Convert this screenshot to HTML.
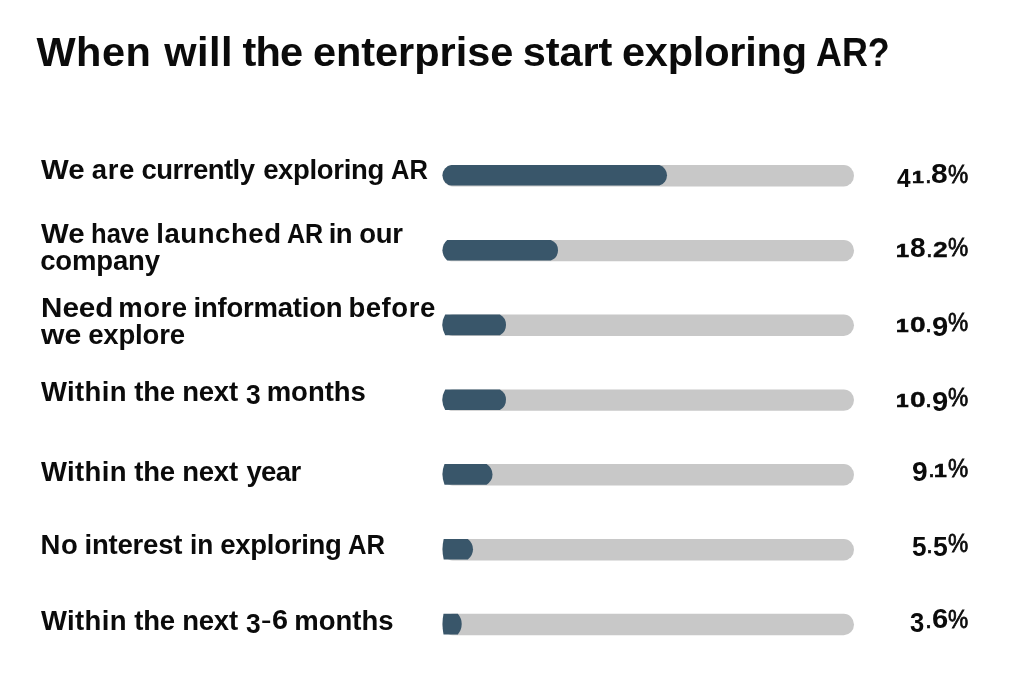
<!DOCTYPE html>
<html lang="en">
<head>
<meta charset="utf-8">
<title>When will the enterprise start exploring AR?</title>
<style>
html,body{margin:0;padding:0;background:#fff;}
body{width:1024px;height:677px;position:relative;overflow:hidden;font-family:"Liberation Sans",Arial,sans-serif;font-weight:bold;color:#0b0b0b;}
.title{margin:0;font-size:41.5px;line-height:48px;font-weight:bold;}
.lbl{font-size:27.5px;line-height:28px;}
.w{position:absolute;white-space:nowrap;transform-origin:0 50%;}
.pct{font-size:27px;line-height:28px;}
.bars{position:absolute;left:0;top:0;}
</style>
</head>
<body>
<h1 class="title"><span class="w" style="left:36.40px;top:27.62px;letter-spacing:0.485px">When</span> <span class="w" style="left:164.25px;top:27.62px;letter-spacing:0.511px">will</span> <span class="w" style="left:242.50px;top:27.62px;letter-spacing:-0.858px">the</span> <span class="w" style="left:312.90px;top:27.62px;letter-spacing:-0.027px">enterprise</span> <span class="w" style="left:522.80px;top:27.62px;letter-spacing:-0.088px">start</span> <span class="w" style="left:622.00px;top:27.62px;letter-spacing:-0.215px">exploring</span> <span class="w" style="left:815.64px;top:27.62px;transform:scaleX(0.8640)">AR?</span></h1>

<div class="lbl"><span class="w" style="left:41.00px;top:156.47px;transform:scaleX(1.0682)">We</span> <span class="w" style="left:91.87px;top:156.47px;letter-spacing:0.512px">are</span> <span class="w" style="left:141.44px;top:156.47px;letter-spacing:-0.512px">currently</span> <span class="w" style="left:263.14px;top:156.47px;letter-spacing:-0.331px">exploring</span> <span class="w" style="left:390.90px;top:156.47px;transform:scaleX(0.9287)">AR</span></div>
<div class="lbl"><span class="w" style="left:41.00px;top:220.47px;transform:scaleX(1.0682)">We</span> <span class="w" style="left:91.40px;top:220.47px;transform:scaleX(0.9307)">have</span> <span class="w" style="left:156.18px;top:220.47px;letter-spacing:0.580px">launched</span> <span class="w" style="left:286.81px;top:220.47px;transform:scaleX(0.9106)">AR</span> <span class="w" style="left:328.78px;top:220.47px;letter-spacing:-0.590px">in</span> <span class="w" style="left:359.24px;top:220.47px;letter-spacing:-0.325px">our</span>
  <span class="w" style="left:40.14px;top:247.47px;letter-spacing:-0.141px">company</span></div>
<div class="lbl"><span class="w" style="left:40.55px;top:294.47px;transform:scaleX(1.0773)">Need</span> <span class="w" style="left:118.18px;top:294.47px;letter-spacing:0.519px">more</span> <span class="w" style="left:193.48px;top:294.47px;letter-spacing:-0.209px">information</span> <span class="w" style="left:348.38px;top:294.47px;letter-spacing:0.572px">before</span>
  <span class="w" style="left:40.67px;top:321.47px;transform:scaleX(1.0980)">we</span> <span class="w" style="left:88.14px;top:321.47px;letter-spacing:-0.163px">explore</span></div>
<div class="lbl"><span class="w" style="left:41.00px;top:378.47px;letter-spacing:0.336px">Within</span> <span class="w" style="left:134.30px;top:378.47px;letter-spacing:-0.283px">the</span> <span class="w" style="left:182.18px;top:378.47px;letter-spacing:-0.197px">next</span> <span class="w" style="left:245.89px;top:381.23px;transform-origin:0 23.53px;transform:scale(0.9591,1.0220)">3</span> <span class="w" style="left:266.68px;top:378.47px;letter-spacing:-0.013px">months</span></div>
<div class="lbl"><span class="w" style="left:41.00px;top:458.47px;letter-spacing:0.336px">Within</span> <span class="w" style="left:134.30px;top:458.47px;letter-spacing:-0.283px">the</span> <span class="w" style="left:182.18px;top:458.47px;letter-spacing:-0.197px">next</span> <span class="w" style="left:246.40px;top:458.47px;letter-spacing:-0.598px">year</span></div>
<div class="lbl"><span class="w" style="left:40.58px;top:531.47px;letter-spacing:0.661px">No</span> <span class="w" style="left:84.48px;top:531.47px;letter-spacing:-0.198px">interest</span> <span class="w" style="left:190.36px;top:531.47px;transform:scaleX(0.9537)">in</span> <span class="w" style="left:220.34px;top:531.47px;letter-spacing:-0.281px">exploring</span> <span class="w" style="left:348.10px;top:531.47px;transform:scaleX(0.9312)">AR</span></div>
<div class="lbl"><span class="w" style="left:41.00px;top:606.97px;letter-spacing:0.336px">Within</span> <span class="w" style="left:134.30px;top:606.97px;letter-spacing:-0.283px">the</span> <span class="w" style="left:182.18px;top:606.97px;letter-spacing:-0.197px">next</span> <span class="w" style="left:245.89px;top:609.64px;transform-origin:0 23.53px;transform:scale(0.9591,1.0068)">3</span><span class="w" style="left:261.22px;top:603.80px;transform-origin:0 23.53px;transform:scale(1.1363,0.7240)">-</span><span class="w" style="left:272.00px;top:605.95px;transform-origin:0 23.53px;transform:scale(1.0473,0.9916)">6</span> <span class="w" style="left:294.28px;top:606.97px;letter-spacing:-0.013px">months</span></div>

<svg class="bars" width="1024" height="677" viewBox="0 0 1024 677">
<rect x="442.5" y="165.0" width="411.5" height="21.4" rx="10.2" ry="10.7" fill="#c8c8c8"/>
<path d="M451.50 165.00L659.40 165.00A10.78 10.78 0 0 1 659.40 185.60L451.50 185.60A10.39 10.39 0 0 1 451.50 165.00Z" fill="#39566a"/>
<rect x="442.5" y="239.9" width="411.5" height="21.4" rx="10.2" ry="10.7" fill="#c8c8c8"/>
<path d="M447.20 239.90L550.80 239.90A10.97 10.97 0 0 1 550.80 260.50L447.20 260.50A13.64 13.64 0 0 1 447.20 239.90Z" fill="#39566a"/>
<rect x="442.5" y="314.6" width="411.5" height="21.4" rx="10.2" ry="10.7" fill="#c8c8c8"/>
<path d="M445.20 314.60L499.90 314.60A11.75 11.75 0 0 1 499.90 335.20L445.20 335.20A21.00 21.00 0 0 1 445.20 314.60Z" fill="#39566a"/>
<rect x="442.5" y="389.4" width="411.5" height="21.4" rx="10.2" ry="10.7" fill="#c8c8c8"/>
<path d="M445.20 389.40L499.90 389.40A11.75 11.75 0 0 1 499.90 410.00L445.20 410.00A21.00 21.00 0 0 1 445.20 389.40Z" fill="#39566a"/>
<rect x="442.5" y="464.1" width="411.5" height="21.4" rx="10.2" ry="10.7" fill="#c8c8c8"/>
<path d="M444.50 464.10L486.60 464.10A11.94 11.94 0 0 1 486.60 484.70L444.50 484.70A27.52 27.52 0 0 1 444.50 464.10Z" fill="#39566a"/>
<rect x="442.5" y="539.0" width="411.5" height="21.4" rx="10.2" ry="10.7" fill="#c8c8c8"/>
<path d="M443.70 539.00L467.80 539.00A12.80 12.80 0 0 1 467.80 559.60L443.70 559.60A44.80 44.80 0 0 1 443.70 539.00Z" fill="#39566a"/>
<rect x="442.5" y="613.8" width="411.5" height="21.4" rx="10.2" ry="10.7" fill="#c8c8c8"/>
<path d="M443.50 613.80L457.80 613.80A15.55 15.55 0 0 1 457.80 634.40L443.50 634.40A53.55 53.55 0 0 1 443.50 613.80Z" fill="#39566a"/>
</svg>

<div class="pct"><span class="w" style="left:896.60px;top:163.84px;transform-origin:0 23.36px;transform:scale(0.9021,0.9745)">4</span><span class="w" style="left:912.26px;top:160.03px;-webkit-text-stroke:1.0px #0b0b0b;transform-origin:0 23.36px;transform:scale(0.7908,0.6255)">1</span><span class="w" style="left:926.06px;top:160.10px;-webkit-text-stroke:0.7px #0b0b0b;transform-origin:0 23.36px;transform:scale(0.6302,0.6912)">.</span><span class="w" style="left:931.36px;top:160.42px;transform-origin:0 23.36px;transform:scale(1.1111,0.9997)">8</span><span class="w" style="left:948.13px;top:159.87px;font-weight:normal;-webkit-text-stroke:0.8px #0b0b0b;transform-origin:0 23.36px;transform:scale(0.8420,0.9403)">%</span></div>
<div class="pct"><span class="w" style="left:896.27px;top:233.50px;-webkit-text-stroke:1.0px #0b0b0b;transform-origin:0 23.36px;transform:scale(0.8641,0.6855)">1</span><span class="w" style="left:910.32px;top:233.82px;transform-origin:0 23.36px;transform:scale(1.0444,1.0100)">8</span><span class="w" style="left:926.96px;top:233.60px;-webkit-text-stroke:0.7px #0b0b0b;transform-origin:0 23.36px;transform:scale(0.6302,0.6912)">.</span><span class="w" style="left:932.62px;top:233.64px;-webkit-text-stroke:0.5px #0b0b0b;transform-origin:0 23.36px;transform:scale(0.9786,0.8058)">2</span><span class="w" style="left:948.13px;top:233.27px;font-weight:normal;-webkit-text-stroke:0.8px #0b0b0b;transform-origin:0 23.36px;transform:scale(0.8420,0.9453)">%</span></div>
<div class="pct"><span class="w" style="left:895.60px;top:308.80px;-webkit-text-stroke:1.0px #0b0b0b;transform-origin:0 23.36px;transform:scale(0.8421,0.6805)">1</span><span class="w" style="left:909.68px;top:308.89px;-webkit-text-stroke:0.5px #0b0b0b;transform-origin:0 23.36px;transform:scale(1.0384,0.8289)">0</span><span class="w" style="left:926.00px;top:308.90px;-webkit-text-stroke:0.7px #0b0b0b;transform-origin:0 23.36px;transform:scale(0.6709,0.6912)">.</span><span class="w" style="left:931.79px;top:312.61px;transform-origin:0 23.36px;transform:scale(1.0815,1.0357)">9</span><span class="w" style="left:948.13px;top:308.46px;font-weight:normal;-webkit-text-stroke:0.8px #0b0b0b;transform-origin:0 23.36px;transform:scale(0.8420,0.9502)">%</span></div>
<div class="pct"><span class="w" style="left:895.60px;top:383.80px;-webkit-text-stroke:1.0px #0b0b0b;transform-origin:0 23.36px;transform:scale(0.8421,0.6805)">1</span><span class="w" style="left:909.68px;top:383.89px;-webkit-text-stroke:0.5px #0b0b0b;transform-origin:0 23.36px;transform:scale(1.0384,0.8289)">0</span><span class="w" style="left:926.00px;top:383.90px;-webkit-text-stroke:0.7px #0b0b0b;transform-origin:0 23.36px;transform:scale(0.6709,0.6912)">.</span><span class="w" style="left:931.79px;top:387.61px;transform-origin:0 23.36px;transform:scale(1.0815,1.0357)">9</span><span class="w" style="left:948.13px;top:383.46px;font-weight:normal;-webkit-text-stroke:0.8px #0b0b0b;transform-origin:0 23.36px;transform:scale(0.8420,0.9502)">%</span></div>
<div class="pct"><span class="w" style="left:911.92px;top:458.40px;transform-origin:0 23.36px;transform:scale(1.0444,1.0461)">9</span><span class="w" style="left:928.50px;top:454.40px;-webkit-text-stroke:0.7px #0b0b0b;transform-origin:0 23.36px;transform:scale(0.6709,0.7116)">.</span><span class="w" style="left:934.49px;top:454.31px;-webkit-text-stroke:1.0px #0b0b0b;transform-origin:0 23.36px;transform:scale(0.8494,0.6705)">1</span><span class="w" style="left:948.13px;top:453.97px;font-weight:normal;-webkit-text-stroke:0.8px #0b0b0b;transform-origin:0 23.36px;transform:scale(0.8420,0.9453)">%</span></div>
<div class="pct"><span class="w" style="left:911.79px;top:533.22px;transform-origin:0 23.36px;transform:scale(0.9697,0.9945)">5</span><span class="w" style="left:926.90px;top:529.80px;-webkit-text-stroke:0.7px #0b0b0b;transform-origin:0 23.36px;transform:scale(0.6709,0.6912)">.</span><span class="w" style="left:933.18px;top:533.22px;transform-origin:0 23.36px;transform:scale(0.9841,0.9945)">5</span><span class="w" style="left:948.13px;top:529.26px;font-weight:normal;-webkit-text-stroke:0.8px #0b0b0b;transform-origin:0 23.36px;transform:scale(0.8420,0.9502)">%</span></div>
<div class="pct"><span class="w" style="left:910.40px;top:609.22px;transform-origin:0 23.36px;transform:scale(0.9481,1.0151)">3</span><span class="w" style="left:925.60px;top:605.30px;-webkit-text-stroke:0.7px #0b0b0b;transform-origin:0 23.36px;transform:scale(0.6709,0.6912)">.</span><span class="w" style="left:931.79px;top:605.41px;transform-origin:0 23.36px;transform:scale(1.0815,1.0203)">6</span><span class="w" style="left:948.13px;top:604.86px;font-weight:normal;-webkit-text-stroke:0.8px #0b0b0b;transform-origin:0 23.36px;transform:scale(0.8420,0.9552)">%</span></div>
</body>
</html>
